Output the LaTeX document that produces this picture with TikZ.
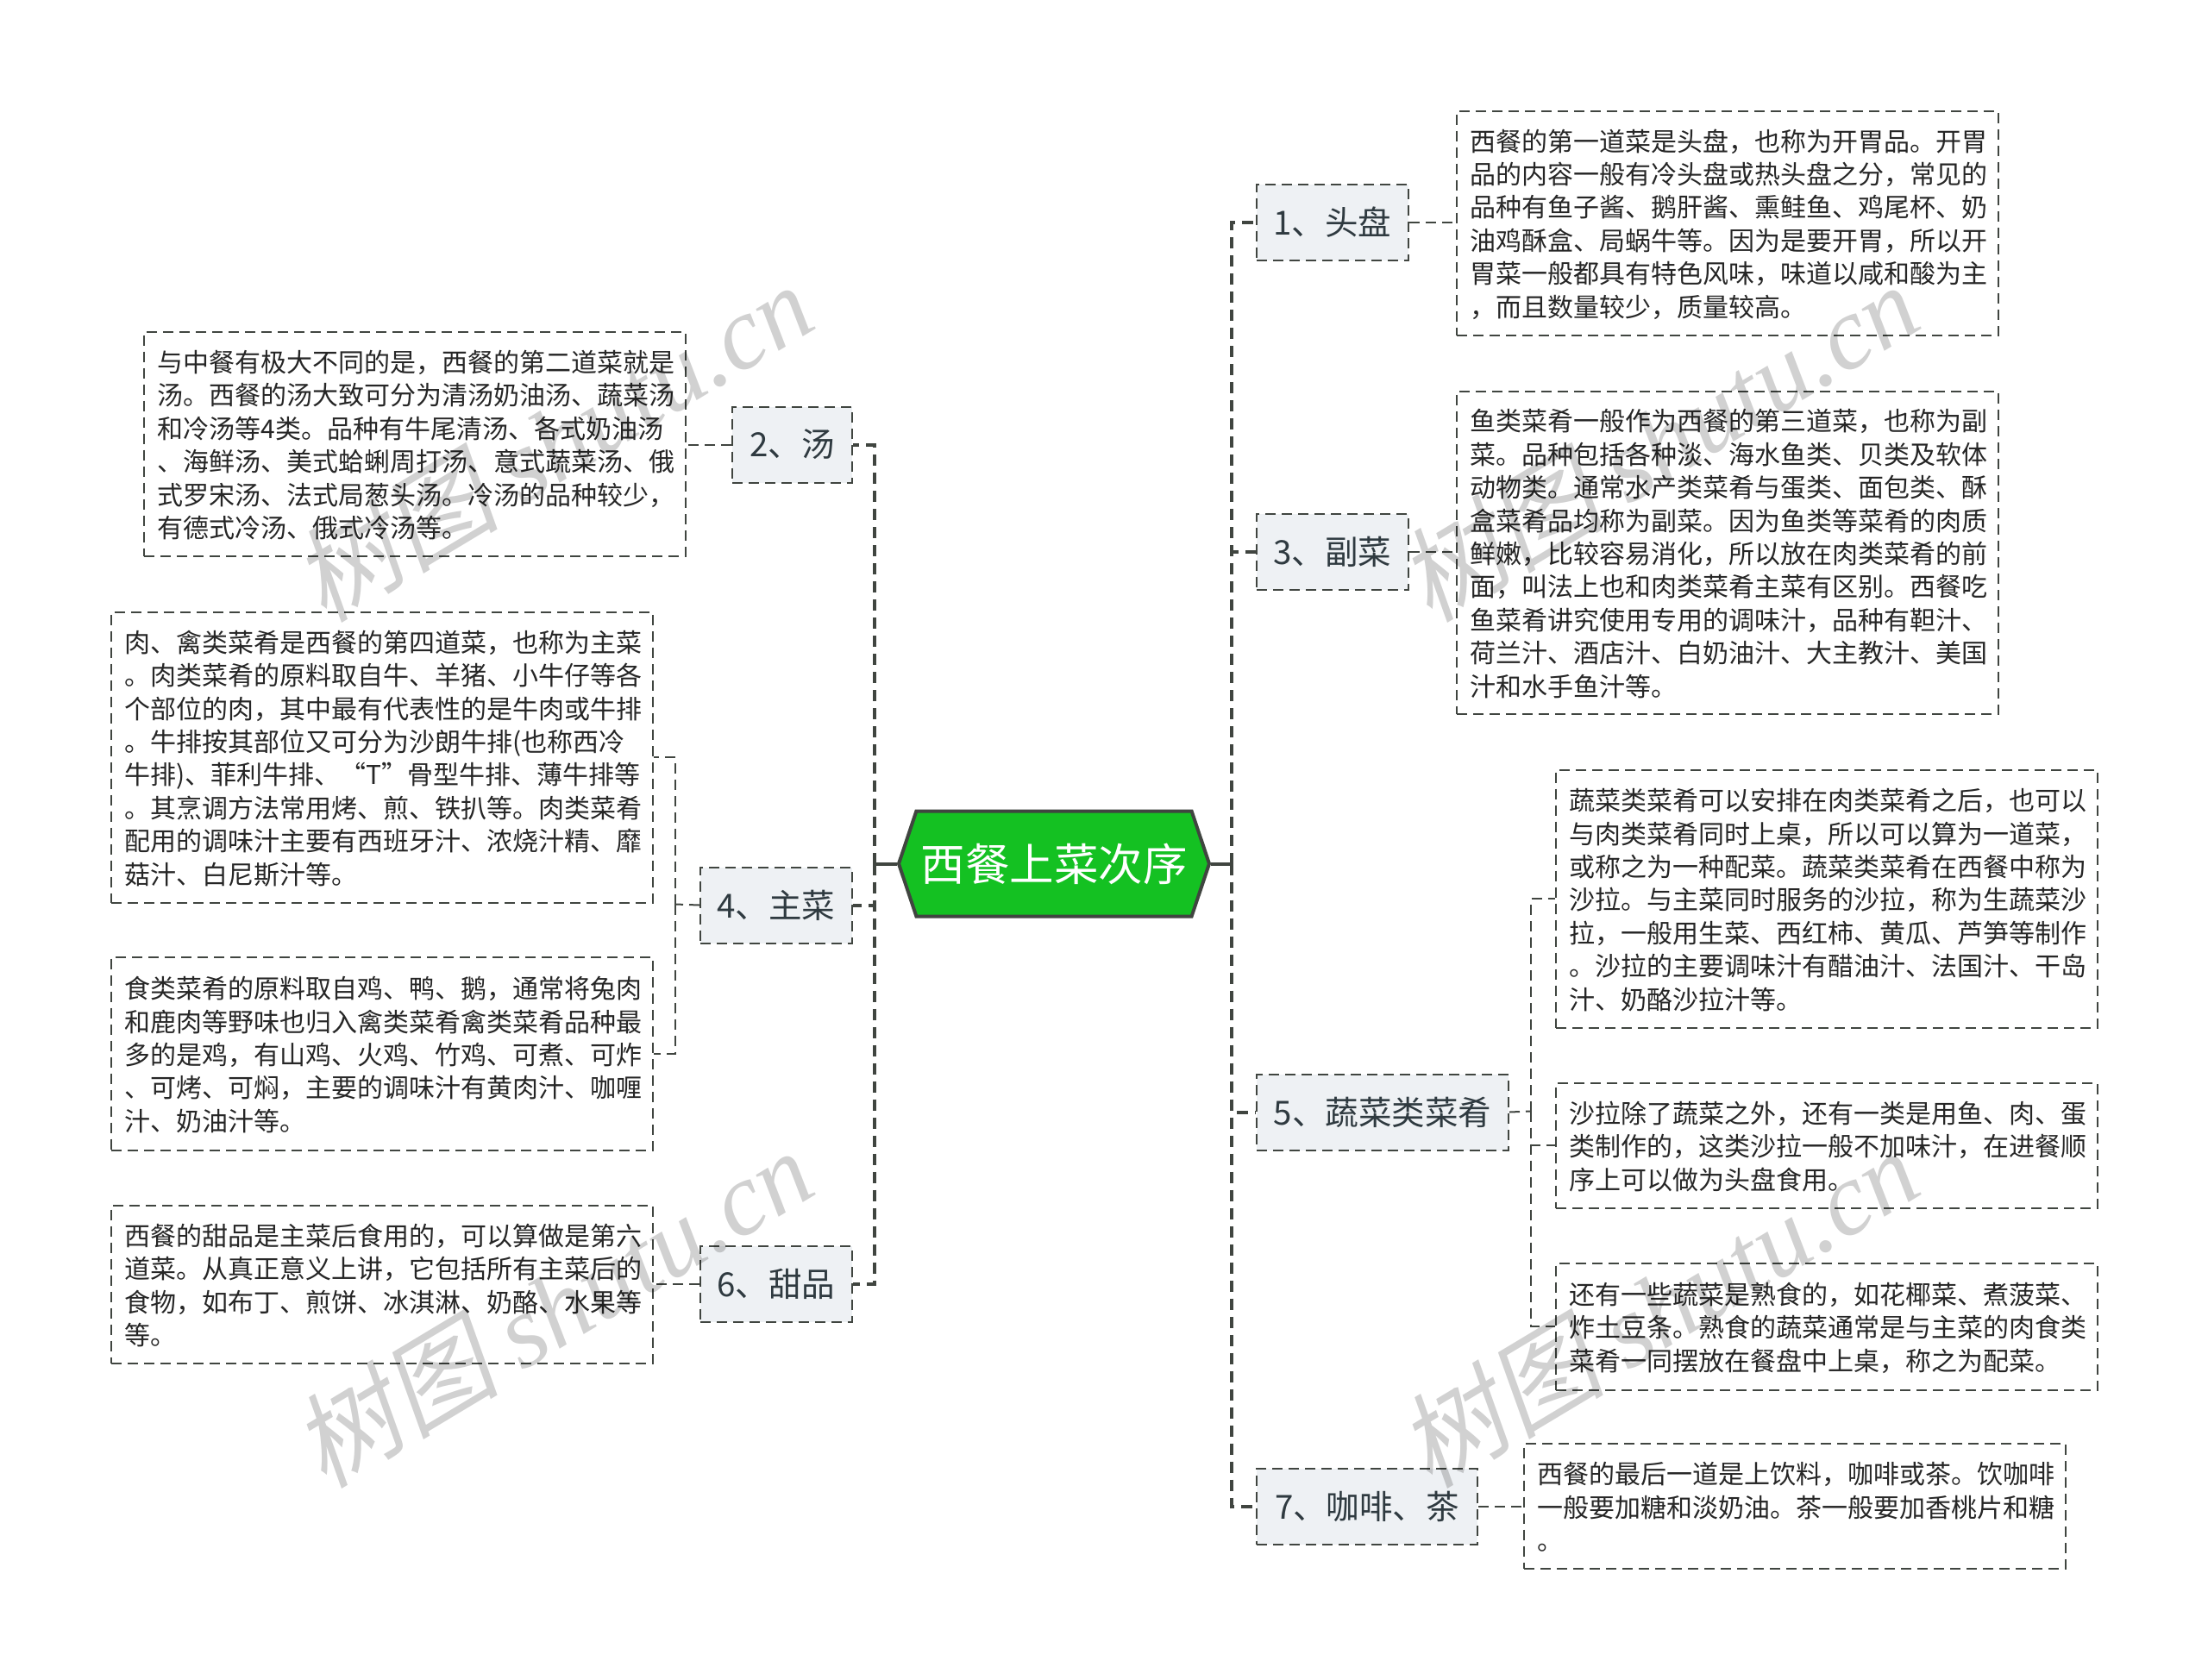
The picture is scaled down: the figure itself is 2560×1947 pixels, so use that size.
\documentclass[tikz,border=0pt]{standalone}
\usepackage{fontspec}
\setmainfont{Noto Sans CJK SC}
\newfontfamily\markcjk[FakeSlant=0.2]{Noto Sans CJK SC}
\newfontfamily\marklatin{Liberation Serif}[ItalicFont={Liberation Serif Italic}]
\usetikzlibrary{shapes.symbols}

\definecolor{linegray}{HTML}{404540}
\definecolor{rootgreen}{HTML}{14C122}
\definecolor{topicfill}{HTML}{EEF1F4}
\definecolor{topictext}{HTML}{2F3A40}

\tikzset{
    x=1pt, y=-1pt,
    root/.style={signal, signal to=west and east, signal pointer angle=143, draw=linegray, line width=4pt, fill=rootgreen, text=white, font=\fontsize{51.5}{51.5}\selectfont, minimum width=360pt, minimum height=122pt, inner sep=0pt},
    topic/.style={anchor=north west, draw=linegray, dash pattern=on 12pt off 7pt, line width=2pt, fill=topicfill, text=topictext, font=\fontsize{38.5}{38.5}\selectfont, minimum height=88pt, inner sep=0pt},
    detail/.style={anchor=north west, draw=linegray, dash pattern=on 12pt off 7pt, line width=2pt, text=black!85, font=\fontsize{30}{38.4}\selectfont, text width=597pt, align=left, inner sep=0pt, inner xsep=15.5pt, execute at end node={\par\vspace*{-3pt}}},
    trunk/.style={draw=linegray, dash pattern=on 13pt off 8pt, line width=4pt},
    twig/.style={draw=linegray, dash pattern=on 12pt off 7pt, line width=2pt},
}

\begin{document}
\begin{tikzpicture}
    \useasboundingbox (0, 0) rectangle (2560, 1947);

    \begin{scope}[shift={(-1, -1.5)}]
    % Centre of the map.
    \node[root] (root) at (1223, 1003) {西餐上菜次序};

    % Topics on the right.
    \node[topic, minimum width=176pt] (topicA) at (1457, 214) {1、头盘};
    \node[topic, minimum width=176pt] (topicC) at (1457, 596) {3、副菜};
    \node[topic, minimum width=292pt] (topicE) at (1457, 1246) {5、蔬菜类菜肴};
    \node[topic, minimum width=256pt] (topicG) at (1457, 1703) {7、咖啡、茶};

    % Topics on the left.
    \node[topic, minimum width=139pt] (topicB) at (849, 472) {2、汤};
    \node[topic, minimum width=176pt] (topicD) at (812, 1006) {4、主菜};
    \node[topic, minimum width=176pt] (topicF) at (812, 1445) {6、甜品};

    % Details on the right.
    \node[detail, minimum height=260pt] (detailA) at (1689, 129) {西餐的第一道菜是头盘，也称为开胃品。开胃\\品的内容一般有冷头盘或热头盘之分，常见的\\品种有鱼子酱、鹅肝酱、熏鲑鱼、鸡尾杯、奶\\油鸡酥盒、局蜗牛等。因为是要开胃，所以开\\胃菜一般都具有特色风味，味道以咸和酸为主\\，而且数量较少，质量较高。};
    \node[detail, minimum height=374pt] (detailC) at (1689, 454) {鱼类菜肴一般作为西餐的第三道菜，也称为副\\菜。品种包括各种淡、海水鱼类、贝类及软体\\动物类。通常水产类菜肴与蛋类、面包类、酥\\盒菜肴品均称为副菜。因为鱼类等菜肴的肉质\\鲜嫩，比较容易消化，所以放在肉类菜肴的前\\面，叫法上也和肉类菜肴主菜有区别。西餐吃\\鱼菜肴讲究使用专用的调味汁，品种有靼汁、\\荷兰汁、酒店汁、白奶油汁、大主教汁、美国\\汁和水手鱼汁等。};
    \node[detail, minimum height=299pt] (detailE1) at (1804, 893) {蔬菜类菜肴可以安排在肉类菜肴之后，也可以\\与肉类菜肴同时上桌，所以可以算为一道菜，\\或称之为一种配菜。蔬菜类菜肴在西餐中称为\\沙拉。与主菜同时服务的沙拉，称为生蔬菜沙\\拉，一般用生菜、西红柿、黄瓜、芦笋等制作\\。沙拉的主要调味汁有醋油汁、法国汁、干岛\\汁、奶酪沙拉汁等。};
    \node[detail, minimum height=145pt] (detailE2) at (1804, 1256) {沙拉除了蔬菜之外，还有一类是用鱼、肉、蛋\\类制作的，这类沙拉一般不加味汁，在进餐顺\\序上可以做为头盘食用。};
    \node[detail, minimum height=147pt] (detailE3) at (1804, 1465) {还有一些蔬菜是熟食的，如花椰菜、煮菠菜、\\炸土豆条。熟食的蔬菜通常是与主菜的肉食类\\菜肴一同摆放在餐盘中上桌，称之为配菜。};
    \node[detail, minimum height=145pt] (detailG) at (1767, 1674) {西餐的最后一道是上饮料，咖啡或茶。饮咖啡\\一般要加糖和淡奶油。茶一般要加香桃片和糖\\。};

    % Details on the left.
    \node[detail, minimum height=260pt] (detailB) at (167, 385) {与中餐有极大不同的是，西餐的第二道菜就是\\汤。西餐的汤大致可分为清汤奶油汤、蔬菜汤\\和冷汤等4类。品种有牛尾清汤、各式奶油汤\\、海鲜汤、美式蛤蜊周打汤、意式蔬菜汤、俄\\式罗宋汤、法式局葱头汤。冷汤的品种较少，\\有德式冷汤、俄式冷汤等。};
    \node[detail, minimum height=337pt] (detailD1) at (129, 710) {肉、禽类菜肴是西餐的第四道菜，也称为主菜\\。肉类菜肴的原料取自牛、羊猪、小牛仔等各\\个部位的肉，其中最有代表性的是牛肉或牛排\\。牛排按其部位又可分为沙朗牛排(也称西冷\\牛排)、菲利牛排、“T”骨型牛排、薄牛排等\\。其烹调方法常用烤、煎、铁扒等。肉类菜肴\\配用的调味汁主要有西班牙汁、浓烧汁精、靡\\菇汁、白尼斯汁等。};
    \node[detail, minimum height=224pt] (detailD2) at (129, 1110) {食类菜肴的原料取自鸡、鸭、鹅，通常将兔肉\\和鹿肉等野味也归入禽类菜肴禽类菜肴品种最\\多的是鸡，有山鸡、火鸡、竹鸡、可煮、可炸\\、可烤、可焖，主要的调味汁有黄肉汁、咖喱\\汁、奶油汁等。};
    \node[detail, minimum height=183pt] (detailF) at (129, 1398) {西餐的甜品是主菜后食用的，可以算做是第六\\道菜。从真正意义上讲，它包括所有主菜后的\\食物，如布丁、煎饼、冰淇淋、奶酪、水果等\\等。};

    % Junctions of the branches.
    \coordinate (trunkR) at (1429, 1003);
    \coordinate (trunkL) at (1015, 1003);
    \coordinate (forkE) at (1776, 1290);
    \coordinate (forkD) at (784, 1050);

    \draw[draw=linegray, line width=4pt] (root.east) -- (trunkR);
    \draw[draw=linegray, line width=4pt] (root.west) -- (trunkL);

    \foreach \t in {topicA,topicC,topicE,topicG}
        \draw[trunk] (trunkR) |- (\t.west);
    \foreach \t in {topicB,topicD,topicF}
        \draw[trunk] (trunkL) |- (\t.east);

    \draw[twig] (topicA.east) -- (topicA.east -| detailA.west);
    \draw[twig] (topicC.east) -- (topicC.east -| detailC.west);
    \draw[twig] (topicG.east) -- (topicG.east -| detailG.west);
    \draw[twig] (topicB.west) -- (topicB.west -| detailB.east);
    \draw[twig] (topicF.west) -- (topicF.west -| detailF.east);

    \draw[twig] (topicE.east) -- (forkE);
    \foreach \d in {detailE1,detailE2,detailE3}
        \draw[twig] (forkE) |- (\d.west);
    \draw[twig] (topicD.west) -- (forkD);
    \foreach \d in {detailD1,detailD2}
        \draw[twig] (forkD) |- (\d.east);
    \end{scope}

    % Watermarks.
    \foreach \n/\mx/\my in {a/640/512,b/1922/512,c/640/1516,d/1922/1516}
        \node[rotate=31, opacity=.18, font=\fontsize{120}{120}\selectfont] (mark\n) at (\mx, \my) {\markcjk 树图 \marklatin\itshape shutu.cn};
\end{tikzpicture}
\end{document}
